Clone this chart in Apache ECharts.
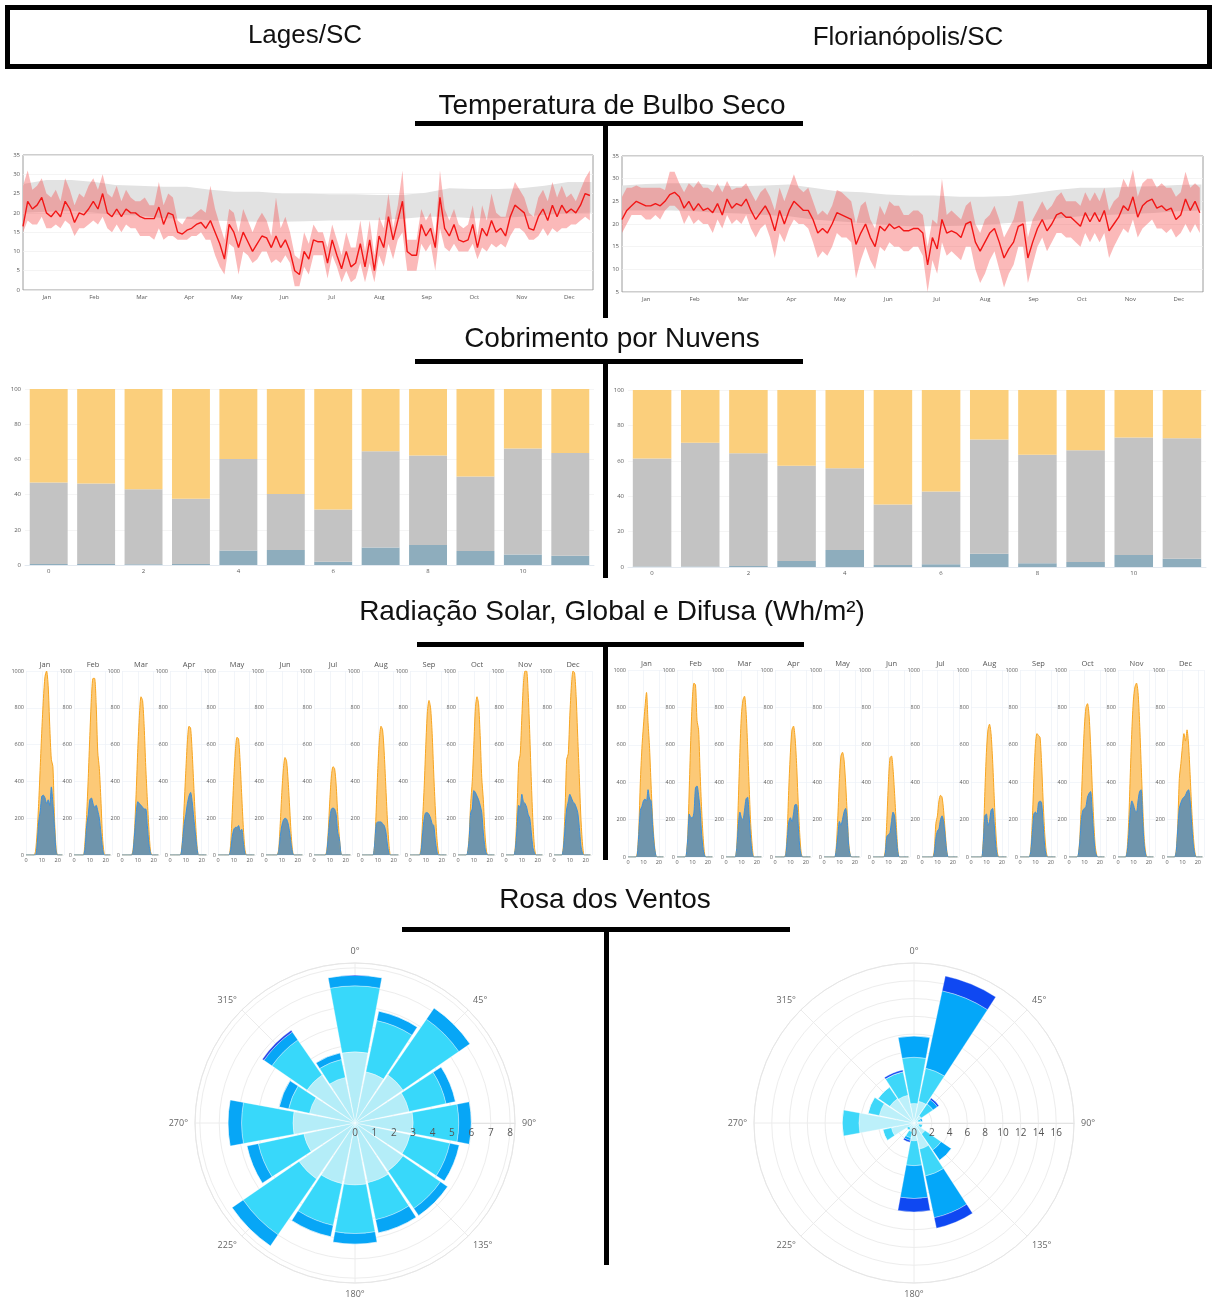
<!DOCTYPE html>
<html><head><meta charset="utf-8">
<script src="https://cdn.jsdelivr.net/npm/echarts/dist/echarts.min.js"></script>
<style>html,body{margin:0;padding:0;background:#fff}#c{width:1213px;height:1302px}</style>
</head><body><div id="c"></div><script>
// ---------------- DATA ----------------
const MONTHS = ['Jan','Feb','Mar','Apr','May','Jun','Jul','Aug','Sep','Oct','Nov','Dec'];
const TEMP_DAYS = Array.from({length:122}, (_, i) => i * 3);   // sample day-of-year
const GRAY_DAYS = [0,15,31,46,59,74,90,105,120,135,151,166,181,196,212,227,243,258,273,288,304,319,334,349,364];

const LAGES_MEAN = [16.5,23,21,22,24,20,19,20.5,19,23,21,17.5,20,19.5,21,23,21,25,20,19,21,19,21,20,20,19,18.5,18.5,18.5,21.5,17,20,19.5,15,14.5,15.5,16,17,17.5,16,18,15,12,8,17,15,11,15,12.5,10,12,14,13.5,11,14,11,13,10,5,4,10,8,13,12.5,12.5,7,13,9,5.5,10,6,7,12,6,13,5,14,11,19,13,18,23,10,9,9,17,14,16,11,24,16,14,17,13,12.5,13,17,11,16,14,18,15,16,14,19,22,21,20,16,15.5,19,21,18,22,19,22,20,21,20,22,25,24.5];
const LAGES_HIGH = [27,31,26,27,29,25,24,26,23,29,26,22,25,24,27,29,26,30,25,24,27,23,26,24,23,23,24,22,22,28,22,25,24,18,17,19,19,20,21,20,27,21,17,13,21,20,15,21,18,15,18,20,18,14,24,16,19,15,9,8,15,12,17,15,15,11,17,13,9,15,11,11,18,10,18,9,19,16,25,16,22,31,13,13,13,21,18,20,14,31,21,18,21,17,16,17,22,14,22,18,25,20,19,19,24,28,26,24,20,19,24,26,23,28,24,27,24,25,23,26,29,31];
const LAGES_LOW = [15,18,17,17,19,16,16,17,16,18,17,14,16,16,17,18,17,19,16,15,17,15,17,16,16,14,14,14,13,16,13,14,14,13,13,13,14,14,15,13,13,9,6,4,12,11,4,10,9,7,8,10,10,7,8,7,9,7,1,1,6,4,9,9,9,3,9,6,2,5,2,3,7,2,7,2,9,6,12,8,13,15,5,5,5,12,10,12,5,16,11,10,12,10,10,10,12,8,11,10,12,11,12,11,14,16,16,15,13,13,14,16,14,16,15,16,16,17,17,18,19,18];
const LAGES_COMFORT_UP = [27.5,28.5,28.5,28,27.2,27,26.8,26.8,26,25.5,25.5,25,25,24.8,24.8,24.6,24.6,25.2,26.4,26.2,26.2,26.4,27,28,28];
const LAGES_COMFORT_LO = [20,20.3,20.5,20,19.5,19.3,18.6,18.5,18,17.8,17.7,17.7,17.8,18,18.1,18.1,18.5,19,19,18.6,18.6,19,19.5,19.9,20];

const FLORI_MEAN = [21,23,24,25,24.5,24,24,24.5,24,25,26.5,27,26,23.5,25,23,24.5,23,23.5,22.5,24.5,22,25.5,23.5,24.5,24,25.5,23,21,22.5,24,22,18.5,23,20,23,25,24,23,23,21,18,19,18,20,22.5,22,21.5,21,15.5,18,20,17,15,19.5,18.5,20,19,19.5,18.5,18.5,19,19,18,11,17,14.5,21,18,18.5,18,17,20,20.5,16,14,16,18,19,16,12.5,14.5,16,19.5,20,12.5,16,19,21,18.5,20,22,22.5,21.5,21.5,20.5,19.5,22.5,20.5,22.5,20.5,23,18.5,20,21.5,24,23,26,21.5,24,25,25.5,23.5,24,23,23.5,21,22,25.5,23,25,22.5];
const FLORI_HIGH = [26,28,28,28.5,28,28,28,28,28,27.5,31.5,31.5,29,27,29,28,29.5,28,28,27,29,27,29.5,27.5,28,28,29,27,25,27,28,26,23,28,25,28,31,28,27,28,25,22,23,22,24,27.5,27,26,25,20,24,25,21,19,24,22,25,24,24,22,22,23,23,22,15,21,20,30,22,23,22,21,24,25,20,18,21,22,24,21,17,19,21,25,25,17,21,23,25,23,24,26,27,25,25,25,24,27,25,27,25,28,23,25,26,30,28,32,26,29,30,30,28,29,28,28,26,27,31.5,28,29,28];
const FLORI_LOW = [18,20,22,22,22,21,21,22,21,23,24,24,23,20,22,20,21,20,20,18,21,19,22,20,21,20,22,19,17,19,20,17,12.5,18,16,19,21,20,20,19,16,12.5,14,13,15,18,17,17,16,8,12,15,12,10,15,14,16,15,15,14,14,15,15,13,5,12,9,16,13,14,13,12,15,15,10,7,9,12,14,10,6,9,11,15,15,7,11,15,17,14,16,18,18,17,17,16,15,18,16,18,16,18,12.5,15,17,19,18,21,17,19,20,21,19,19,18,19,17,18,20,18,20,18];
const FLORI_COMFORT_UP = [28.5,28.8,29,29,28.5,28.3,28.5,28.7,28,27.2,27,26.5,26.3,26.3,26,26,26.2,26.8,27.5,28,28,28.2,28.3,28.6,28.7];
const FLORI_COMFORT_LO = [23,23,23,22.8,22.5,22.3,22,21.7,21,20.6,20.2,19.8,19.5,19.5,19.6,19.8,20.2,20.6,21.2,21.7,22,22.2,22.4,22.8,23];

const CLOUD_CATS = ['0','1','2','3','4','5','6','7','8','9','10','11'];
const LAGES_CLOUD_BLUE = [0.5,0.6,0.4,0.5,8.2,8.5,1.9,9.9,11.4,8,5.9,5.3];
const LAGES_CLOUD_GRAY = [46.4,45.7,42.7,37.1,52,31.9,29.6,54.8,50.8,42.3,60.3,58.3];
const LAGES_CLOUD_YELLOW = [53.1,53.7,56.9,62.4,39.8,59.6,68.5,35.3,37.8,49.7,33.8,36.4];
const FLORI_CLOUD_BLUE = [0.3,0.3,0.5,3.4,9.6,1.1,1.5,7.5,2.1,2.8,6.8,4.7];
const FLORI_CLOUD_GRAY = [61,69.9,63.7,53.8,46.2,34.2,41.1,64.6,61.3,63.2,66.4,68.1];
const FLORI_CLOUD_YELLOW = [38.7,29.8,35.8,42.8,44.2,64.7,57.4,27.9,36.6,34,26.8,27.2];

const HOURS = [0,4,5,6,7,8,9,10,11,12,13,14,15,16,17,18,19,20,23];
const LAGES_GLOBAL = [
 [0,0,0,20,120,280,480,680,850,970,1000,920,700,520,480,200,40,0,0],
 [0,0,0,0,80,220,420,650,850,960,960,820,560,470,300,100,10,0,0],
 [0,0,0,0,30,150,350,580,760,860,840,700,480,300,140,20,0,0,0],
 [0,0,0,0,10,100,280,460,620,700,690,560,380,200,60,0,0,0,0],
 [0,0,0,0,0,60,230,420,570,640,630,500,320,150,30,0,0,0,0],
 [0,0,0,0,0,30,170,340,470,530,510,400,250,100,10,0,0,0,0],
 [0,0,0,0,0,20,130,300,430,480,470,380,220,100,10,0,0,0,0],
 [0,0,0,0,0,60,250,470,630,700,680,560,380,200,60,0,0,0,0],
 [0,0,0,0,40,200,380,600,780,840,800,660,440,250,90,10,0,0,0],
 [0,0,0,10,100,280,400,600,800,860,820,650,420,300,120,20,0,0,0],
 [0,0,0,60,250,500,550,750,930,1000,1000,880,660,400,180,40,0,0,0],
 [0,0,0,60,250,520,550,760,920,1000,990,860,640,420,200,60,0,0,0]];
const LAGES_DIFFUSE = [
 [0,0,0,0,60,180,240,320,325,310,280,300,270,370,280,150,20,0,0],
 [0,0,0,0,40,160,220,300,310,280,260,270,240,200,120,40,0,0,0],
 [0,0,0,0,20,120,230,290,280,270,260,250,250,160,60,10,0,0,0],
 [0,0,0,0,5,80,170,220,280,320,340,290,200,120,40,0,0,0,0],
 [0,0,0,0,0,30,100,140,150,150,160,130,140,70,10,0,0,0,0],
 [0,0,0,0,0,20,100,160,190,200,195,170,120,50,5,0,0,0,0],
 [0,0,0,0,0,10,100,200,250,255,250,220,120,90,10,0,0,0,0],
 [0,0,0,0,0,60,170,180,180,180,170,160,130,60,10,0,0,0,0],
 [0,0,0,0,20,120,200,230,230,220,200,170,160,80,20,0,0,0,0],
 [0,0,0,10,80,230,250,350,340,320,300,270,230,120,40,5,0,0,0],
 [0,0,0,40,150,270,260,330,290,280,260,220,200,120,40,10,0,0,0],
 [0,0,0,40,150,250,290,330,310,290,280,260,230,150,50,10,0,0,0]];
const FLORI_GLOBAL = [
 [0,0,0,20,150,400,580,700,800,880,720,580,380,200,80,10,0,0,0],
 [0,0,0,10,120,380,650,850,930,920,730,680,450,250,100,10,0,0,0],
 [0,0,0,0,60,300,560,760,840,860,780,600,380,180,60,0,0,0,0],
 [0,0,0,0,20,150,380,560,680,700,640,500,300,130,20,0,0,0,0],
 [0,0,0,0,0,60,220,420,540,560,520,400,240,80,10,0,0,0,0],
 [0,0,0,0,0,40,200,400,530,540,470,340,190,50,0,0,0,0,0],
 [0,0,0,0,0,40,180,220,300,330,320,250,140,40,0,0,0,0,0],
 [0,0,0,0,0,100,350,560,680,710,660,520,330,150,30,0,0,0,0],
 [0,0,0,0,40,200,420,600,660,650,640,500,300,130,30,0,0,0,0],
 [0,0,0,10,100,300,520,700,800,820,760,600,390,200,60,10,0,0,0],
 [0,0,0,50,200,450,680,840,910,930,880,720,500,280,100,20,0,0,0],
 [0,0,0,40,180,420,500,590,660,620,680,600,440,260,120,30,0,0,0]];
const FLORI_DIFFUSE = [
 [0,0,0,10,120,250,270,300,310,300,360,310,300,160,60,10,0,0,0],
 [0,0,0,10,100,230,210,210,240,370,380,330,250,120,40,5,0,0,0],
 [0,0,0,0,50,170,240,210,200,250,310,320,220,100,20,0,0,0,0],
 [0,0,0,0,10,100,190,210,190,230,280,280,180,60,10,0,0,0,0],
 [0,0,0,0,0,40,120,190,170,200,240,260,200,60,10,0,0,0,0],
 [0,0,0,0,0,20,110,120,130,190,240,220,120,30,0,0,0,0,0],
 [0,0,0,0,0,20,100,140,150,200,220,190,110,30,0,0,0,0,0],
 [0,0,0,0,0,80,220,230,170,190,250,260,180,70,10,0,0,0,0],
 [0,0,0,0,30,130,230,240,230,290,300,290,180,60,10,0,0,0,0],
 [0,0,0,10,80,200,250,260,270,320,340,350,250,120,30,5,0,0,0],
 [0,0,0,30,120,250,300,280,250,240,300,350,360,200,60,10,0,0,0],
 [0,0,0,30,150,260,290,310,320,330,350,360,300,180,70,15,0,0,0]];

const DIRS = ['N','NNE','NE','ENE','E','ESE','SE','SSE','S','SSW','SW','WSW','W','WNW','NW','NNW'];
const LAGES_WIND_1 = [3.67,2.7,3.0,2.85,3.0,2.9,3.0,3.15,3.2,3.2,3.5,2.7,3.2,2.4,3.0,2.4];
const LAGES_WIND_2 = [3.4,2.7,3.5,1.95,2.35,2.1,2.35,1.95,2.5,2.2,3.5,2.4,2.65,1.1,2.2,0.95];
const LAGES_WIND_3 = [0.55,0.5,0.7,0.5,0.65,0.5,0.45,0.7,0.55,0.6,0.7,0.6,0.7,0.5,0.5,0.35];
const LAGES_WIND_4 = [0,0,0,0,0,0,0,0,0,0,0,0,0,0,0.1,0];
const FLORI_WIND_1 = [2.2,2.5,1.0,0.5,0.3,0.6,1.5,3.0,2.0,1.0,0.7,2.6,6.2,4.0,3.3,3.2];
const FLORI_WIND_2 = [5.2,3.8,1.6,0.3,0.1,0.4,2.2,3.1,2.8,0.7,0.3,1.0,1.9,1.3,1.6,2.7];
const FLORI_WIND_3 = [2.4,8.9,0.6,0.2,0,0,1.4,4.8,3.7,0.3,0,0,0,0,0,0];
const FLORI_WIND_4 = [0,1.7,0.2,0,0,0,0,1.2,1.5,0.2,0,0,0,0,0,0.2];

// ---------------- BUILD ----------------
const chart = echarts.init(document.getElementById('c'), null, {renderer:'canvas', width:1213, height:1302});
const grid = [], xAxis = [], yAxis = [], series = [], graphic = [];
const FONT = "'Open Sans', 'DejaVu Sans', sans-serif";
const HFONT = "'Liberation Sans', Arial, sans-serif";
const tick = (fs, m) => ({color:'#5a5a5a', fontSize:fs, fontFamily:FONT, margin:m});
const plain = v => String(v);

// band between two series, drawn as one polygon through the axis scales
function band(xi, yi, days, lo, hi, color) {
  return {type:'custom', xAxisIndex:xi, yAxisIndex:yi, silent:true, clip:true,
    data: days.map((d, i) => [d, lo[i], hi[i]]), encode:{x:0, y:[1,2]},
    renderItem: (params, api) => {
      if (params.dataIndex !== 0) return null;
      const top = days.map((d, i) => api.coord([d, hi[i]]));
      const bot = days.map((d, i) => api.coord([d, lo[i]])).reverse();
      return {type:'polygon', shape:{points: top.concat(bot)}, style:{fill:color}};
    }};
}

function addTemp(box, mean, lo, hi, cUp, cLo, ymin) {
  const gi = grid.length;
  grid.push({left:box[0], top:box[1], width:box[2], height:box[3], show:true, borderColor:'#9c9c9c', borderWidth:1, backgroundColor:'#fff'});
  const xi = xAxis.length;
  xAxis.push({type:'value', gridIndex:gi, min:0, max:365, show:false});
  xAxis.push({type:'category', gridIndex:gi, data:MONTHS, position:'bottom', axisLine:{show:false}, axisTick:{show:false}, axisLabel:tick(6,4), splitLine:{show:false}});
  const yi = yAxis.length;
  yAxis.push({type:'value', gridIndex:gi, min:ymin, max:35, interval:5, axisLine:{show:false}, axisTick:{show:false}, axisLabel:tick(6,3), splitLine:{lineStyle:{color:'#efefef', width:0.7}}});
  series.push(band(xi, yi, GRAY_DAYS, cLo, cUp, '#e2e2e2'));
  series.push(band(xi, yi, TEMP_DAYS, lo, hi, 'rgba(246,80,80,0.40)'));
  series.push({type:'line', xAxisIndex:xi, yAxisIndex:yi, symbol:'none', silent:true,
    data:TEMP_DAYS.map((d, i) => [d, mean[i]]), lineStyle:{color:'#f21616', width:1.4}});
}
addTemp([23,155,570,135], LAGES_MEAN, LAGES_LOW, LAGES_HIGH, LAGES_COMFORT_UP, LAGES_COMFORT_LO, 0);
addTemp([622,156,581,136], FLORI_MEAN, FLORI_LOW, FLORI_HIGH, FLORI_COMFORT_UP, FLORI_COMFORT_LO, 5);

function addCloud(box, blue, gray, yellow) {
  const gi = grid.length;
  grid.push({left:box[0], top:box[1], width:box[2], height:box[3]});
  const xi = xAxis.length;
  xAxis.push({type:'category', gridIndex:gi, data:CLOUD_CATS, axisLine:{lineStyle:{color:'#e3e9f0'}}, axisTick:{show:false}, axisLabel:{...tick(6,3), interval:1}});
  const yi = yAxis.length;
  yAxis.push({type:'value', gridIndex:gi, min:0, max:100, interval:20, axisLine:{show:false}, axisTick:{show:false}, axisLabel:tick(6,4), splitLine:{lineStyle:{color:'#f1f1f1', width:0.7}}});
  const b = {type:'bar', xAxisIndex:xi, yAxisIndex:yi, stack:'s'+gi, barCategoryGap:'20%', silent:true};
  series.push({...b, data:blue, itemStyle:{color:'#8eadbd'}});
  series.push({...b, data:gray, itemStyle:{color:'#c3c3c3'}});
  series.push({...b, data:yellow, itemStyle:{color:'#fbcf7c'}});
}
addCloud([25,389,569,176], LAGES_CLOUD_BLUE, LAGES_CLOUD_GRAY, LAGES_CLOUD_YELLOW);
addCloud([628,390,578,177], FLORI_CLOUD_BLUE, FLORI_CLOUD_GRAY, FLORI_CLOUD_YELLOW);

function addRad(left, top, w, h, glob, diff, month) {
  const gi = grid.length;
  grid.push({left:left, top:top, width:w, height:h});
  const xi = xAxis.length;
  xAxis.push({type:'value', gridIndex:gi, min:0, max:24, interval:10, axisLine:{show:false}, axisTick:{show:false}, axisLabel:{...tick(5.5,2), showMaxLabel:false, formatter:plain}, splitLine:{lineStyle:{color:'#edf1f7', width:0.7}}});
  const yi = yAxis.length;
  yAxis.push({type:'value', gridIndex:gi, min:0, max:1000, interval:200, axisLine:{show:false}, axisTick:{show:false}, axisLabel:{...tick(5.5,2), formatter:plain}, splitLine:{lineStyle:{color:'#eef2f8', width:0.7}}});
  const b = {type:'line', xAxisIndex:xi, yAxisIndex:yi, symbol:'none', silent:true, smooth:0.25};
  series.push({...b, data:HOURS.map((hh, i) => [hh, glob[i]]), lineStyle:{color:'#f7a521', width:1}, areaStyle:{color:'#fcc977', opacity:1}});
  series.push({...b, data:HOURS.map((hh, i) => [hh, diff[i]]), lineStyle:{color:'#3a8fdc', width:1}, areaStyle:{color:'#6e94ac', opacity:1}});
  graphic.push({type:'text', x:left + w/2, y:top - 6, style:{text:month, textAlign:'center', textVerticalAlign:'middle', fill:'#555', font:"7.5px " + FONT}});
}
for (let k = 0; k < 12; k++) {
  addRad(Math.round(25.7 + 48*k), 671, 38, 184, LAGES_GLOBAL[k], LAGES_DIFFUSE[k], MONTHS[k]);
  addRad(628 + 49*k, 670, 37, 187, FLORI_GLOBAL[k], FLORI_DIFFUSE[k], MONTHS[k]);
}

// wind roses
const polar = [], angleAxis = [], radiusAxis = [];
function addRose(center, rmax, step, vals, colors) {
  const p = polar.length;
  polar.push({center:center, radius:160}, {center:center, radius:160}, {center:center, radius:160});
  // grid polar: spokes, rings, angle labels
  angleAxis.push({polarIndex:p, type:'value', min:0, max:360, interval:45, startAngle:0, clockwise:true,
    axisLine:{lineStyle:{color:'#e6e6e6'}}, axisTick:{show:false}, splitLine:{lineStyle:{color:'#ececec'}},
    axisLabel:{formatter:v => ((v + 90) % 360) + '°', color:'#666', fontSize:9, fontFamily:FONT, margin:7, showMaxLabel:false}});
  radiusAxis.push({polarIndex:p, type:'value', min:0, max:rmax, interval:step, axisLine:{lineStyle:{color:'#e3e3e3'}}, axisTick:{show:false},
    splitLine:{lineStyle:{color:'#ededed'}}, axisLabel:{show:false}});
  // bar polar
  angleAxis.push({polarIndex:p+1, type:'category', data:DIRS, startAngle:101.25, clockwise:true, show:false});
  radiusAxis.push({polarIndex:p+1, type:'value', min:0, max:rmax, show:false});
  // label polar (radial tick labels drawn above the bars)
  angleAxis.push({polarIndex:p+2, type:'value', min:0, max:360, startAngle:0, clockwise:true, show:false});
  radiusAxis.push({polarIndex:p+2, type:'value', min:0, max:rmax, interval:step, z:20, axisLine:{show:false}, axisTick:{show:false}, splitLine:{show:false},
    axisLabel:{color:'#555', fontSize:10, fontFamily:FONT, showMaxLabel:false, margin:-5, verticalAlign:'top'}});
  vals.forEach((v, i) => series.push({type:'bar', coordinateSystem:'polar', polarIndex:p+1, stack:'w'+p, data:v, barCategoryGap:'7%', silent:true,
    itemStyle:{color:colors[i], borderColor:'rgba(255,255,255,0.55)', borderWidth:0.6}}));
}
addRose([355,1123], 8.25, 1, [LAGES_WIND_1, LAGES_WIND_2, LAGES_WIND_3, LAGES_WIND_4], ['#b4edf8','#38d8fa','#07a6f6','#2846e8']);
addRose([914,1123], 18, 2, [FLORI_WIND_1, FLORI_WIND_2, FLORI_WIND_3, FLORI_WIND_4], ['#bcf0fa','#3ed7f9','#04a7f9','#0f48f2']);

// frame, headings, connector lines
const H = (t, x, y, fs) => graphic.push({type:'text', x:x, y:y, style:{text:t, textAlign:'center', textVerticalAlign:'middle', fill:'#111', font:fs + 'px ' + HFONT}});
const R = (x, y, w, h) => graphic.push({type:'rect', shape:{x:x, y:y, width:w, height:h}, style:{fill:'#000'}});
graphic.push({type:'rect', shape:{x:7.5, y:7.5, width:1202, height:59}, style:{fill:'none', stroke:'#000', lineWidth:5}});
H('Lages/SC', 305, 36, 26);
H('Florianópolis/SC', 908, 38, 26);
H('Temperatura de Bulbo Seco', 612, 106, 28);  R(415,121,388,5); R(603,121,5,197);
H('Cobrimento por Nuvens', 612, 339, 28);      R(415,359,388,5); R(603,359,5,219);
H('Radiação Solar, Global e Difusa (Wh/m²)', 612, 612, 28); R(417,642,387,5); R(603,642,5,218);
H('Rosa dos Ventos', 605, 900, 28);            R(402,927,388,5); R(604,927,5,338);

chart.setOption({animation:false, backgroundColor:'#fff', grid, xAxis, yAxis, polar, angleAxis, radiusAxis, series, graphic});
</script></body></html>
